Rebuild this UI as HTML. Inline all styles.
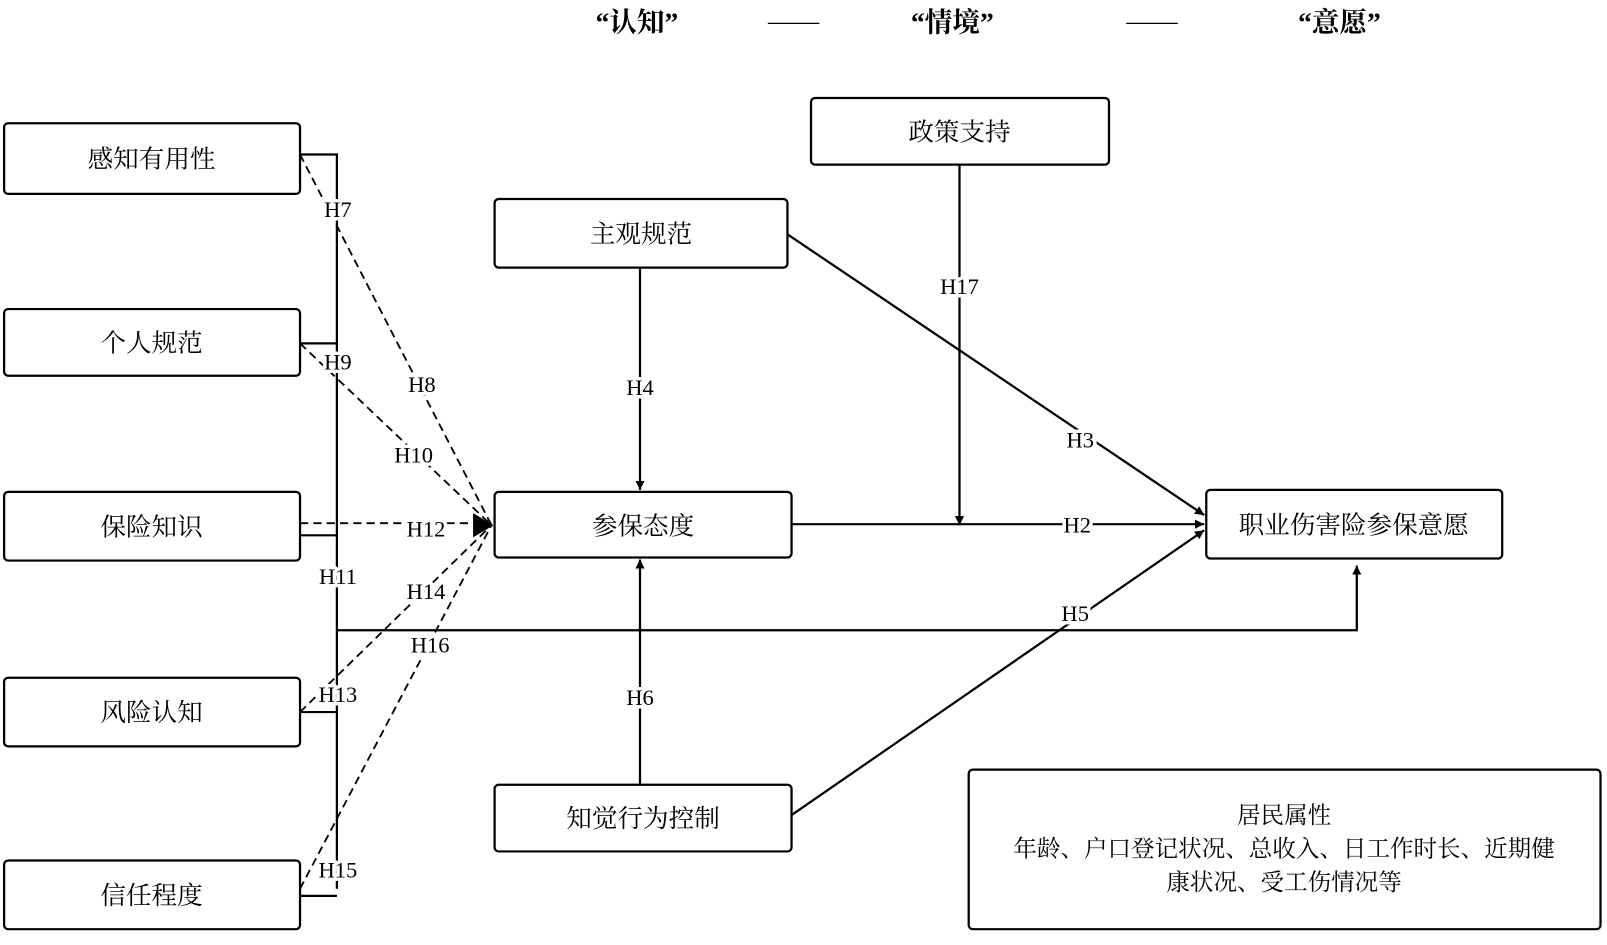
<!DOCTYPE html>
<html><head><meta charset="utf-8"><style>
html,body{margin:0;padding:0;background:#fff;}
svg{display:block;}
.b{fill:#fff;stroke:#000;stroke-width:2.2;}
.t{font-family:"Liberation Serif","Noto Serif CJK SC",serif;font-size:25px;fill:#000;}
.h{font-family:"Liberation Serif","Noto Serif CJK SC",serif;font-size:22px;fill:#000;stroke:#fff;stroke-width:7px;paint-order:stroke;stroke-linejoin:round;}
.l{stroke:#000;stroke-width:2.2;fill:none;}
.d{stroke:#000;stroke-width:1.8;fill:none;stroke-dasharray:8,5;}
</style></head><body>
<svg width="1607" height="945" viewBox="0 0 1607 945" xmlns="http://www.w3.org/2000/svg">
<defs>
<marker id="a" viewBox="0 0 10 10" refX="10" refY="5" markerWidth="9" markerHeight="9" orient="auto" markerUnits="userSpaceOnUse"><path d="M0,0 L10,5 L0,10 z" fill="#000"/></marker>
</defs>
<g transform="scale(1.024,1.01)">
<g class="t" text-anchor="middle" font-size="27">
<text x="622" y="31" font-size="27" font-weight="bold">“认知”</text>
<text x="775" y="29">——</text>
<text x="930" y="31" font-size="27" font-weight="bold">“情境”</text>
<text x="1125" y="29">——</text>
<text x="1308" y="31" font-size="27" font-weight="bold">“意愿”</text>
</g>
<path class="l" d="M293,153 H329 V880 M293,340 H329 M293,530 H329 M293,705 H329 M293,887 H329"/>
<path class="l" d="M329,624 H1325 V560" marker-end="url(#a)"/>
<path class="d" d="M293,153 L480,520"/>
<path class="d" d="M293,340 L480,520"/>
<path class="d" d="M293,518 L480,518"/>
<path class="d" d="M293,705 L480,520"/>
<path class="d" d="M293,880 L480,520"/>
<path d="M462,508 L482,520 L462,532 z" fill="#000"/>
<path class="l" d="M625,265 V485" marker-end="url(#a)"/>
<path class="l" d="M625,777 V554" marker-end="url(#a)"/>
<path class="l" d="M937,163 V520" marker-end="url(#a)"/>
<path class="l" d="M769,232 L1176,510" marker-end="url(#a)"/>
<path class="l" d="M773,519 L1176,519" marker-end="url(#a)"/>
<path class="l" d="M773,807 L1176,525" marker-end="url(#a)"/>
<rect class="b" x="4" y="122" width="289" height="70" rx="4"/>
<rect class="b" x="4" y="306" width="289" height="66" rx="4"/>
<rect class="b" x="4" y="487" width="289" height="68" rx="4"/>
<rect class="b" x="4" y="671" width="289" height="68" rx="4"/>
<rect class="b" x="4" y="852" width="289" height="68" rx="4"/>
<rect class="b" x="792" y="97" width="291" height="66" rx="4"/>
<rect class="b" x="483" y="197" width="286" height="68" rx="4"/>
<rect class="b" x="483" y="487" width="290" height="65" rx="4"/>
<rect class="b" x="483" y="777" width="290" height="66" rx="4"/>
<rect class="b" x="1178" y="485" width="289" height="68" rx="4"/>
<rect class="b" x="946" y="762" width="617" height="158" rx="4"/>
<g class="t" text-anchor="middle">
<text x="148" y="166">感知有用性</text>
<text x="148" y="348">个人规范</text>
<text x="148" y="530">保险知识</text>
<text x="148" y="714">风险认知</text>
<text x="148" y="895">信任程度</text>
<text x="937" y="139">政策支持</text>
<text x="626" y="240">主观规范</text>
<text x="628" y="529">参保态度</text>
<text x="628" y="819">知觉行为控制</text>
<text x="1322" y="528">职业伤害险参保意愿</text>
<text x="1254" y="815" font-size="23">居民属性</text>
<text x="1254" y="848" font-size="23">年龄、户口登记状况、总收入、日工作时长、近期健</text>
<text x="1254" y="881" font-size="23">康状况、受工伤情况等</text>
</g>
<g class="h" text-anchor="middle">
<text x="330" y="215">H7</text>
<text x="330" y="366">H9</text>
<text x="412" y="388">H8</text>
<text x="404" y="458">H10</text>
<text x="416" y="531">H12</text>
<text x="330" y="578">H11</text>
<text x="416" y="593">H14</text>
<text x="420" y="646">H16</text>
<text x="330" y="695">H13</text>
<text x="330" y="869">H15</text>
<text x="625" y="391">H4</text>
<text x="625" y="698">H6</text>
<text x="937" y="291">H17</text>
<text x="1055" y="443">H3</text>
<text x="1052" y="527">H2</text>
<text x="1050" y="615">H5</text>
</g>
</g>
</svg>
</body></html>
